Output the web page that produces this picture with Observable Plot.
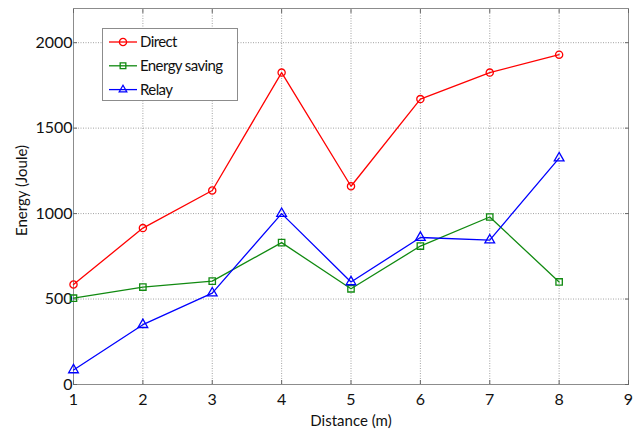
<!DOCTYPE html>
<html>
<head>
<meta charset="utf-8">
<script src="https://cdn.jsdelivr.net/npm/d3@7"></script>
<script src="https://cdn.jsdelivr.net/npm/@observablehq/plot@0.6"></script>
<style>
  html, body { margin: 0; padding: 0; background: #fff; }
  #chart { width: 640px; height: 430px; }
</style>
</head>
<body>
<div id="chart"></div>
<script>
// Energy consumed by each transmission scheme over distance
const distances = [1, 2, 3, 4, 5, 6, 7, 8];
const seriesNames = ["Direct", "Energy saving", "Relay"];
const directEnergy = [585, 915, 1135, 1825, 1160, 1670, 1825, 1930];
const savingEnergy = [505, 570, 605, 830, 560, 810, 980, 600];
const relayEnergy = [85, 350, 535, 1000, 600, 860, 845, 1325];
const seriesColors = ["#ff0000", "#118a11", "#0000ff"];
const seriesSymbols = ["circle", "square", "triangle"];
const xTicks = [1, 2, 3, 4, 5, 6, 7, 8, 9];
const yTicks = [0, 500, 1000, 1500, 2000];

const valuesBySeries = [directEnergy, savingEnergy, relayEnergy];
const rows = seriesNames.flatMap((name, s) =>
  distances.map((d, i) => ({series: name, distance: d, energy: valuesBySeries[s][i]}))
);

const font = "Lato, 'DejaVu Sans', sans-serif";
const frameGray = "#8c8c8c";
const gridStyle = {stroke: frameGray, strokeOpacity: 1, strokeWidth: 0.8, strokeDasharray: "1,1.5"};
const innerTick = {tickSize: -4, text: null, label: null, stroke: "#666", strokeOpacity: 1};

const chart = Plot.plot({
  width: 640,
  height: 430,
  marginLeft: 73,
  marginRight: 12,
  marginTop: 8,
  marginBottom: 46,
  style: {fontFamily: font, fontSize: "15px", background: "#fff", color: "#111"},
  x: {domain: [1, 9], label: null},
  y: {domain: [0, 2200], label: null},
  color: {domain: seriesNames, range: seriesColors},
  symbol: {domain: seriesNames, range: seriesSymbols},
  marks: [
    Plot.gridX(xTicks, gridStyle),
    Plot.gridY(yTicks, gridStyle),
    Plot.frame({stroke: frameGray, strokeWidth: 1}),
    // short inward ticks on all four sides of the box
    Plot.axisX(xTicks, {...innerTick, anchor: "bottom"}),
    Plot.axisX(xTicks, {...innerTick, anchor: "top"}),
    Plot.axisY(yTicks, {...innerTick, anchor: "left"}),
    Plot.axisY(yTicks, {...innerTick, anchor: "right"}),
    Plot.axisX(xTicks, {tickSize: 0, tickPadding: 9, fontSize: 16, letterSpacing: "-0.5px", tickFormat: d => String(d), label: null}),
    Plot.axisY(yTicks, {tickSize: 0, tickPadding: 1, fontSize: 16, letterSpacing: "-1.2px", tickFormat: d => String(d), label: null}),
    Plot.text(["Distance (m)"], {frameAnchor: "bottom", dy: 41, fontSize: 15, letterSpacing: "-0.6px", fill: "#111"}),
    Plot.text(["Energy (Joule)"], {frameAnchor: "left", textAnchor: "middle", dx: -51, dy: -6, rotate: -90, fontSize: 15, letterSpacing: "-0.3px", fill: "#111"}),
    Plot.line(rows, {x: "distance", y: "energy", z: "series", stroke: "series", strokeWidth: 1.3}),
    Plot.dot(rows, {x: "distance", y: "energy", stroke: "series", symbol: "series", r: 3.6, strokeWidth: 1.3, fill: "none"})
  ]
});

// Legend box in the upper left corner of the plot area
const svg = d3.select(chart);
const legend = svg.append("g").attr("font-family", font).attr("font-size", 15).attr("text-anchor", "start");
legend.append("rect")
  .attr("x", 102.5).attr("y", 28.5).attr("width", 135).attr("height", 72)
  .attr("fill", "#fff").attr("stroke", frameGray).attr("stroke-width", 1);
const symbolTypes = {circle: d3.symbolCircle, square: d3.symbolSquare2, triangle: d3.symbolTriangle2};
seriesNames.forEach((name, i) => {
  const y = 42 + i * 23.8;
  const g = legend.append("g").attr("transform", `translate(0,${y})`);
  g.append("line").attr("x1", 109).attr("x2", 137).attr("y1", 0).attr("y2", 0)
    .attr("stroke", seriesColors[i]).attr("stroke-width", 1.3);
  g.append("path")
    .attr("transform", "translate(123,0)")
    .attr("d", d3.symbol(symbolTypes[seriesSymbols[i]], Math.PI * 3.6 * 3.6)())
    .attr("fill", "none").attr("stroke", seriesColors[i]).attr("stroke-width", 1.3);
  g.append("text").attr("x", 140).attr("y", 0).attr("dy", "0.35em")
    .attr("text-anchor", "start")
    .attr("letter-spacing", "-0.6px").attr("fill", "#111").text(name);
});

document.getElementById("chart").appendChild(chart);
</script>
</body>
</html>
